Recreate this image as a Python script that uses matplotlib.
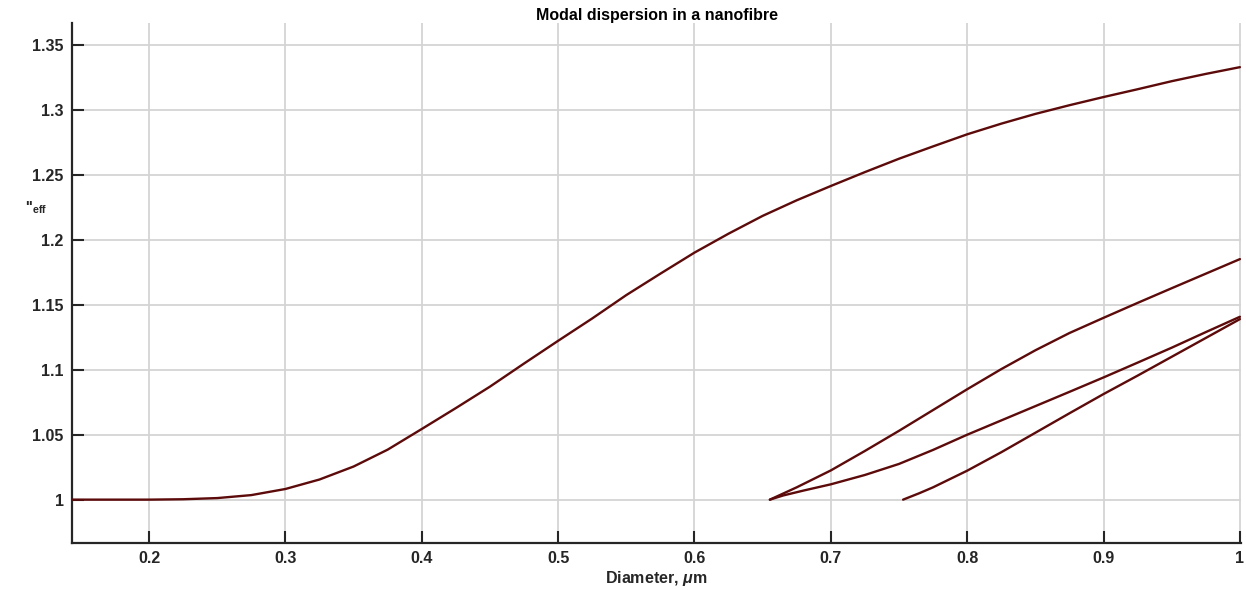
import matplotlib
matplotlib.use("Agg")
import matplotlib.pyplot as plt
from matplotlib.ticker import FuncFormatter

# Fundamental mode
d_fund = [0.1435, 0.2, 0.225, 0.25, 0.275, 0.3, 0.325, 0.35, 0.375, 0.4, 0.425, 0.45, 0.475,
          0.5, 0.525, 0.55, 0.575, 0.6, 0.625, 0.65, 0.675, 0.7, 0.725, 0.75, 0.775, 0.8,
          0.825, 0.85, 0.875, 0.9, 0.925, 0.95, 0.975, 1.0]
n_fund = [1.0, 1.0, 1.0003, 1.0012, 1.0035, 1.0082, 1.0155, 1.0255, 1.0385, 1.0544, 1.0705, 1.087, 1.1048,
          1.1223, 1.1395, 1.1575, 1.174, 1.1902, 1.2048, 1.2185, 1.2305, 1.2415, 1.2522, 1.2625, 1.272, 1.2813,
          1.2895, 1.297, 1.3037, 1.3100, 1.316, 1.3222, 1.3278, 1.333]

# Higher-order modes
d_modeA = [0.6553, 0.675, 0.7, 0.725, 0.75, 0.775, 0.8, 0.825, 0.85, 0.875, 0.9, 0.925, 0.95, 0.975, 1.0]
n_modeA = [1.0, 1.0095, 1.0225, 1.0375, 1.0530, 1.069, 1.0850, 1.1005, 1.1150, 1.1283, 1.1400, 1.1515, 1.1628, 1.1740, 1.1852]

d_modeB = [0.6553, 0.665, 0.68, 0.7, 0.725, 0.75, 0.775, 0.8, 0.825, 0.85, 0.875, 0.9, 0.925, 0.95, 0.975, 1.0]
n_modeB = [1.0, 1.0032, 1.0070, 1.0118, 1.0190, 1.0275, 1.0383, 1.050, 1.061, 1.072, 1.083, 1.0941, 1.1055, 1.117, 1.129, 1.1408]

d_modeC = [0.7530, 0.765, 0.775, 0.8, 0.825, 0.85, 0.875, 0.9, 0.925, 0.95, 0.975, 1.0]
n_modeC = [1.0, 1.005, 1.0095, 1.0223, 1.0365, 1.0515, 1.0665, 1.0813, 1.0955, 1.110, 1.1245, 1.139]

x_ticks = [0.2, 0.3, 0.4, 0.5, 0.6, 0.7, 0.8, 0.9, 1.0]
y_ticks = [1.0, 1.05, 1.1, 1.15, 1.2, 1.25, 1.3, 1.35]

plt.rcParams['font.family'] = ['Liberation Sans', 'DejaVu Sans']
plt.rcParams['mathtext.fontset'] = 'custom'
plt.rcParams['mathtext.it'] = 'Liberation Sans:italic:bold'
plt.rcParams['mathtext.rm'] = 'Liberation Sans:bold'

W, H = 1246, 590
fig = plt.figure(figsize=(W / 100, H / 100), dpi=100)
ax = fig.add_axes([72 / W, 1 - 542.5 / H, (1241 - 72) / W, (542.5 - 23) / H])

line_color = '#5c0a0a'
for d, n in [(d_fund, n_fund), (d_modeA, n_modeA), (d_modeB, n_modeB), (d_modeC, n_modeC)]:
    ax.plot(d, n, color=line_color, lw=1.7, solid_capstyle='round', solid_joinstyle='round', zorder=3)

ax.set_xlim(0.1435, 1.0008)
ax.set_ylim(0.967, 1.367)
ax.set_xticks(x_ticks)
ax.set_yticks(y_ticks)
fmt = FuncFormatter(lambda v, p: ('%g' % round(v, 3)))
ax.xaxis.set_major_formatter(fmt)
ax.yaxis.set_major_formatter(fmt)

ax.grid(True, color='#d4d4d4', lw=1.3, zorder=0)
ax.set_axisbelow(True)
for s in ['top', 'right']:
    ax.spines[s].set_visible(False)
for s in ['left', 'bottom']:
    ax.spines[s].set_linewidth(1.6)
    ax.spines[s].set_color('#262626')

ax.tick_params(direction='in', length=8.5, width=1.5, color='#262626',
               labelcolor='#262626', labelsize=11.5, pad=6)
for lab in ax.get_xticklabels() + ax.get_yticklabels():
    lab.set_fontweight('bold')

ax.set_title('Modal dispersion in a nanofibre', fontsize=11.5, fontweight='bold',
             color='black', pad=2)
ax.set_xlabel(r'Diameter, $\mu$m', fontsize=11.5, fontweight='bold', color='#262626', labelpad=2)
fig.text(25 / W, 1 - 208 / H, r"''$_{\mathrm{eff}}$", fontsize=11, fontweight='bold',
         color='#262626', ha='left', va='center')

fig.savefig('out.png', dpi=100, facecolor='white')
